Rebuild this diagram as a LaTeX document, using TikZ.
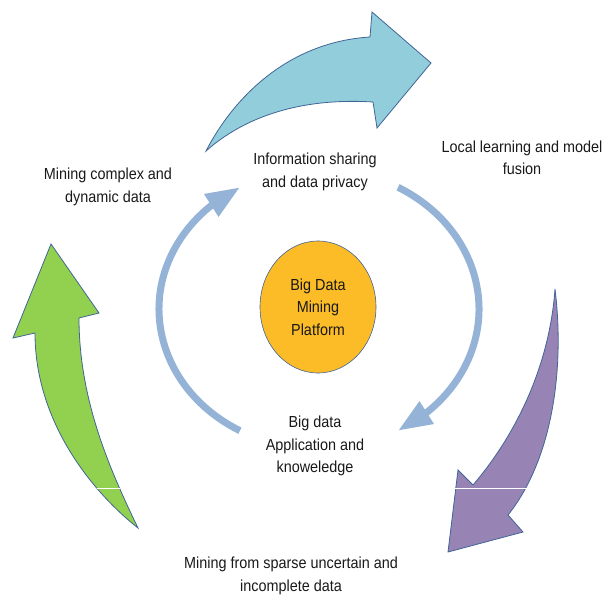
\documentclass[tikz,border=0pt]{standalone}
\usepackage{fontspec}
\setmainfont{Liberation Sans}[FakeStretch=0.9]
\usepackage{tikz}
\usetikzlibrary{arrows.meta, bending, shapes.geometric, calc}

\definecolor{ringblue}{RGB}{149,179,215}
\definecolor{skyfill}{RGB}{146,205,220}
\definecolor{leaffill}{RGB}{146,208,80}
\definecolor{plumfill}{RGB}{151,132,181}
\definecolor{hubfill}{RGB}{252,188,40}
\definecolor{rim}{RGB}{65,100,150}

\begin{document}
\begin{tikzpicture}[
        x=1pt, y=-1pt,
        caption/.style={font=\fontsize{16}{22.5}\selectfont, align=center, text=black!90},
        hub/.style={ellipse, draw=rim, line width=0.6pt, fill=hubfill, minimum width=116pt, minimum height=132pt, inner sep=0pt},
        ring/.style={draw=ringblue, line width=7pt, -{Triangle[length=34pt, width=25pt]}},
        bigarrow/.style={draw=rim, line width=0.8pt, line join=miter},
        seam/.style={draw=white, line width=1pt}
    ]
    \useasboundingbox (0,0) rectangle (613,596);

    % Centre of the inner ring
    \coordinate (c) at (319,309);

    % Platform in the middle
    \node[hub, caption] (hub) at (318,307) {Big Data\\Mining\\Platform};

    % Stage labels
    \node[caption] (share)   at (315,172) {Information sharing\\and data privacy};
    \node[caption] (local)   at (522,158) {Local learning and model\\fusion};
    \node[caption] (complex) at (108,187) {Mining complex and\\dynamic data};
    \node[caption] (appl)    at (315,446) {Big data\\Application and\\knoweledge};
    \node[caption] (sparse)  at (291,576) {Mining from sparse uncertain and\\incomplete data};

    % --- Inner ring ---
    \draw[ring] ($(c)+(119.6:160 and 140)$) arc[start angle=119.6, end angle=240.4, x radius=160, y radius=140];
    \draw[ring] ($(c)+(-60.4:160 and 140)$) arc[start angle=-60.4, end angle=60.4, x radius=160, y radius=140];

    % --- Outer block arrows ---

    % Top (blue)
    \draw[bigarrow, fill=skyfill] (206,151)
        .. controls (235,95) and (290,42) .. (370,37)
        -- (372,12) -- (431,63) -- (377,128) -- (373,102)
        .. controls (310,98) and (250,112) .. cycle;

    % Right (purple)
    \draw[bigarrow, fill=plumfill] (555,289)
        .. controls (565,370) and (552,460) .. (508,515)
        -- (523,532) -- (448,552) -- (458,470) -- (473,485)
        .. controls (520,430) and (550,360) .. cycle;

    % Left (green)
    \draw[bigarrow, fill=leaffill] (138,528)
        .. controls (90,490) and (35,420) .. (35,333)
        -- (13,338) -- (51,244) -- (99,313) -- (79,318)
        .. controls (79,400) and (110,470) .. cycle;

    % Thin seams across the lower arrows
    \draw[seam] (97,488.5) -- (120,488.5);
    \draw[seam] (455,488.5) -- (531,488.5);
\end{tikzpicture}
\end{document}
